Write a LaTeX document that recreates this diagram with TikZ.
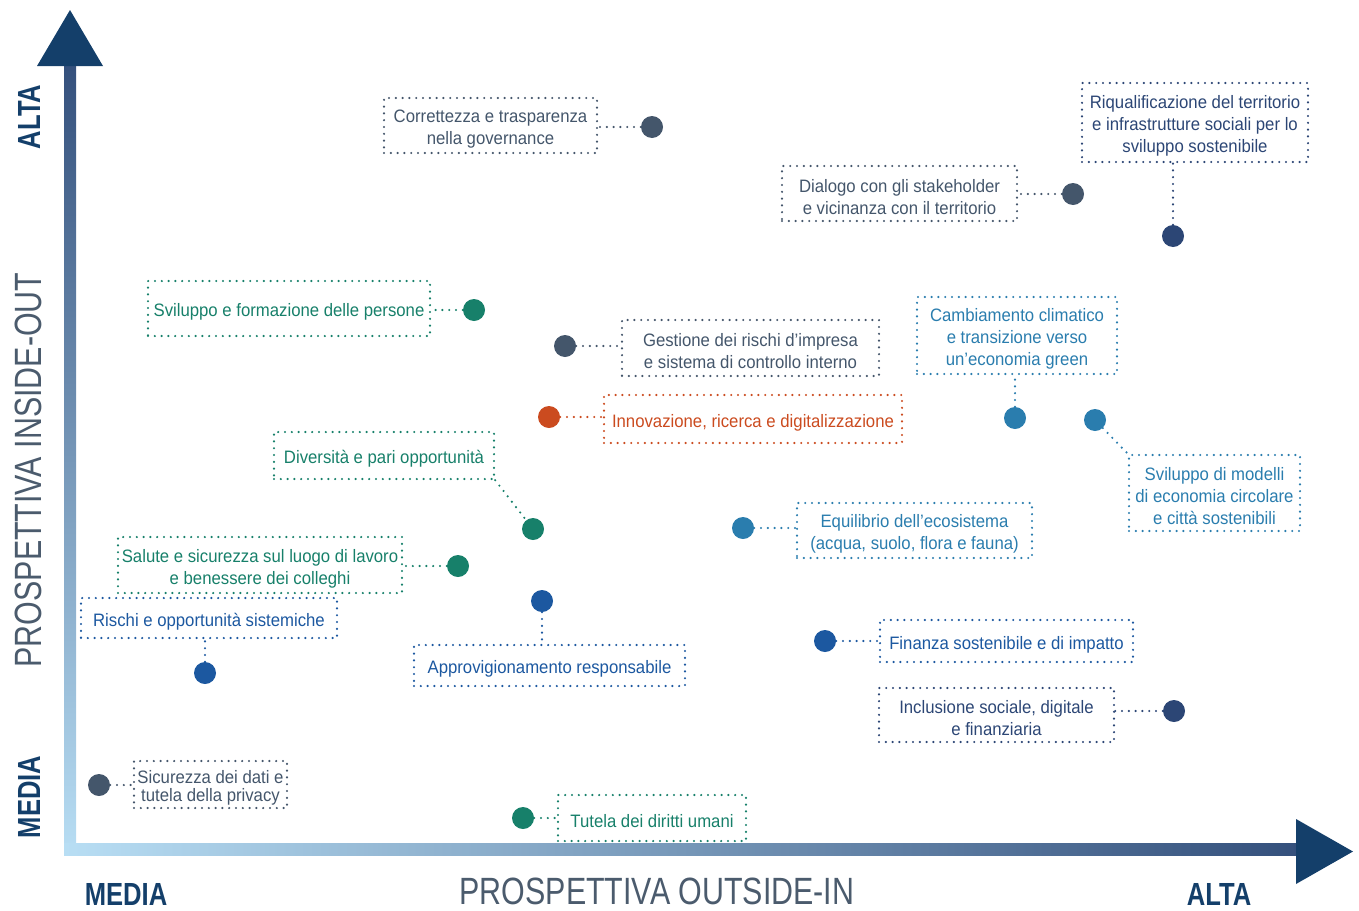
\documentclass[tikz,border=0pt]{standalone}
\usepackage{fontspec}
\setmainfont{Liberation Sans}[FakeStretch=0.93]
\newfontfamily\axisfont{Liberation Sans}[FakeStretch=0.8]

\definecolor{slate}{HTML}{44566B}
\definecolor{navy}{HTML}{2C4675}
\definecolor{teal}{HTML}{17806A}
\definecolor{blue}{HTML}{1C58A0}
\definecolor{sky}{HTML}{2A7DAE}
\definecolor{rust}{HTML}{CB4B1F}
\definecolor{axdark}{HTML}{143F6A}
\definecolor{axbar}{HTML}{34507C}
\definecolor{axlight}{HTML}{B8DEF4}
\definecolor{axgrey}{HTML}{4B5B6D}

% tall first line, so the text sits a bit low in its box
\newcommand\firstline{\rule{0pt}{20pt}}

\begin{document}
\begin{tikzpicture}[x=1pt, y=-1pt,
    tag/.style={draw=#1, text=#1, line width=2.4pt, dash pattern=on 0pt off 6.8pt,
        line cap=round, align=center, inner xsep=3pt, inner ysep=2pt,
        font=\fontsize{18}{22}\selectfont},
    dims/.style 2 args={minimum width=#1pt, minimum height=#2pt},
    ball/.style={circle, fill=#1, minimum size=22pt, inner sep=0pt},
    link/.style={draw=#1, line width=2.4pt, dash pattern=on 0pt off 6.8pt, line cap=round},
    axislab/.style={text=axgrey, inner sep=0pt, text depth=0pt, anchor=base,
        font=\axisfont\fontsize{38}{38}\selectfont},
    levellab/.style={text=axdark, inner sep=0pt, text depth=0pt, anchor=base,
        font=\axisfont\bfseries\fontsize{32}{32}\selectfont}]

    \useasboundingbox (0,0) rectangle (1359,910);

    % axes
    \shade[bottom color=axlight, top color=axbar] (64,855) rectangle (76,62);
    \shade[left color=axlight, right color=axbar] (64,843) rectangle (1298,855);
    \fill[axdark] (37,66) -- (103,66) -- (70,10) -- cycle;
    \fill[axdark] (1296,819) -- (1296,884) -- (1353,851.5) -- cycle;

    \node[axislab] (xlab) at (657,904) {PROSPETTIVA OUTSIDE-IN};
    \node[axislab, rotate=90] (ylab) at (41,470) {PROSPETTIVA INSIDE-OUT};
    \node[levellab] (xlow) at (126,905) {MEDIA};
    \node[levellab] (xhigh) at (1219,905) {ALTA};
    \node[levellab, rotate=90] (ylow) at (40,797) {MEDIA};
    \node[levellab, rotate=90] (yhigh) at (40,117) {ALTA};

    % topics
    \node[tag=slate, dims={213}{55}] (govern) at (490.5,125.5) {\firstline Correttezza e trasparenza\\nella governance};
    \node[ball=slate] (govern-d) at (652,127) {};
    \draw[link=slate] (govern-d) -- (govern-d -| govern.east);

    \node[tag=navy, dims={226}{79}] (riqual) at (1195,122.5) {\firstline Riqualificazione del territorio\\e infrastrutture sociali per lo\\sviluppo sostenibile};
    \node[ball=navy] (riqual-d) at (1173,236) {};
    \draw[link=navy] (riqual-d) -- (riqual-d |- riqual.south);

    \node[tag=slate, dims={235}{55}] (dialog) at (899.5,193.5) {\firstline Dialogo con gli stakeholder\\e vicinanza con il territorio};
    \node[ball=slate] (dialog-d) at (1073,194) {};
    \draw[link=slate] (dialog-d) -- (dialog-d -| dialog.east);

    \node[tag=teal, dims={282}{55}] (people) at (289,308.5) {\firstline Sviluppo e formazione delle persone};
    \node[ball=teal] (people-d) at (474,310) {};
    \draw[link=teal] (people-d) -- (people-d -| people.east);

    \node[tag=slate, dims={257}{56}] (risk) at (750.5,348) {\firstline Gestione dei rischi d’impresa\\e sistema di controllo interno};
    \node[ball=slate] (risk-d) at (565,346) {};
    \draw[link=slate] (risk-d) -- (risk-d -| risk.west);

    \node[tag=sky, dims={200}{77}] (climate) at (1017,335.5) {\firstline Cambiamento climatico\\e transizione verso\\un’economia green};
    \node[ball=sky] (climate-d) at (1015,418) {};
    \draw[link=sky] (climate-d) -- (climate-d |- climate.south);

    \node[tag=rust, dims={298}{48}] (innov) at (753,419) {\firstline Innovazione, ricerca e digitalizzazione};
    \node[ball=rust] (innov-d) at (549,417) {};
    \draw[link=rust] (innov-d) -- (innov-d -| innov.west);

    \node[tag=sky, dims={171}{76}] (circ) at (1214.5,493) {\firstline Sviluppo di modelli\\di economia circolare\\e città sostenibili};
    \node[ball=sky] (circ-d) at (1095,420) {};
    \draw[link=sky] (circ-d) -- (circ.north west);

    \node[tag=teal, dims={220}{47}] (divers) at (384,455.5) {\firstline Diversità e pari opportunità};
    \node[ball=teal] (divers-d) at (533,529) {};
    \draw[link=teal] (divers.south east) -- (divers-d);

    \node[tag=sky, dims={235}{55}] (eco) at (914.5,530.5) {\firstline Equilibrio dell’ecosistema\\(acqua, suolo, flora e fauna)};
    \node[ball=sky] (eco-d) at (743,528) {};
    \draw[link=sky] (eco-d) -- (eco-d -| eco.west);

    \node[tag=teal, dims={284}{56}] (health) at (260,565) {\firstline Salute e sicurezza sul luogo di lavoro\\e benessere dei colleghi};
    \node[ball=teal] (health-d) at (458,566) {};
    \draw[link=teal] (health-d) -- (health-d -| health.east);

    \node[tag=blue, dims={256}{40}] (system) at (209,618) {\firstline Rischi e opportunità sistemiche};
    \node[ball=blue] (system-d) at (205,673) {};
    \draw[link=blue] (system-d) -- (system-d |- system.south);

    \node[tag=blue, dims={271}{41}] (supply) at (549.5,665.5) {\firstline Approvigionamento responsabile};
    \node[ball=blue] (supply-d) at (542,601) {};
    \draw[link=blue] (supply-d) -- (supply-d |- supply.north);

    \node[tag=blue, dims={253}{42}] (finance) at (1006.5,641) {\firstline Finanza sostenibile e di impatto};
    \node[ball=blue] (finance-d) at (825,641) {};
    \draw[link=blue] (finance-d) -- (finance-d -| finance.west);

    \node[tag=navy, dims={235}{54}] (incl) at (996.5,715) {\firstline Inclusione sociale, digitale\\e finanziaria};
    \node[ball=navy] (incl-d) at (1174,711) {};
    \draw[link=navy] (incl-d) -- (incl-d -| incl.east);

    \node[tag=slate, dims={153}{47}, inner ysep=0pt, font=\fontsize{18}{18}\selectfont] (privacy) at (210.5,784.5) {\firstline Sicurezza dei dati e\\tutela della privacy};
    \node[ball=slate] (privacy-d) at (99,785) {};
    \draw[link=slate] (privacy-d) -- (privacy-d -| privacy.west);

    \node[tag=teal, dims={188}{46}] (rights) at (652,818) {\firstline Tutela dei diritti umani};
    \node[ball=teal] (rights-d) at (523,818) {};
    \draw[link=teal] (rights-d) -- (rights-d -| rights.west);
\end{tikzpicture}
\end{document}
